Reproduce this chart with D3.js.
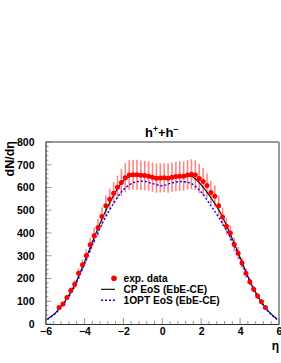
<!DOCTYPE html>
<html><head><meta charset="utf-8">
<script src="https://cdn.jsdelivr.net/npm/d3@7"></script>
<style>body{margin:0;background:#fff}svg{display:block}text{font-family:"Liberation Sans",Arial,sans-serif;font-weight:bold}</style>
</head><body>
<svg id="c" width="281" height="363"></svg>
<script>
const etaData = [-5.3,-5.1,-4.9,-4.7,-4.5,-4.3,-4.1,-3.9,-3.7,-3.5,-3.3,-3.1,-2.9,-2.7,-2.5,-2.3,-2.1,-1.9,-1.7,-1.5,-1.3,-1.1,-0.9,-0.7,-0.5,-0.3,-0.1,
  0.1,0.3,0.5,0.7,0.9,1.1,1.3,1.5,1.7,1.9,2.1,2.3,2.5,2.7,2.9,3.1,3.3,3.5,3.7,3.9,4.1,4.3,4.5,4.7,4.9,5.1,5.3];
const dnData = [73,88,116,147,175,223,260,301,348,388,424,472,520,548,575,601,622,643,655,656,656,654,653,650,645,641,642,
  643,641,645,648,650,650,655,658,655,640,626,609,578,562,520,470,430,400,350,311,268,223,186,153,123,98,73];
const errData = [8,10,12,15,17,21,24,27,31,34,37,41,45,47,49,51,60,64,65,66,66,65,65,65,64,64,64,
  64,64,64,65,65,65,65,66,65,64,60,52,49,47,44,40,36,34,31,27,24,21,17,14,12,10,8];
const etaCP = [-5.9,-5.5,-5.0,-4.5,-4.0,-3.5,-3.0,-2.5,-2.0,-1.5,-1.0,-0.5,0,0.5,1.0,1.5,2.0,2.5,3.0,3.5,4.0,4.5,5.0,5.5,5.9];
const dnCP = [22,48,100,172,272,380,480,565,630,654,657,646,641,647,651,649,612,555,487,395,293,190,110,52,22];
const etaOPT = [-5.9,-5.5,-5.0,-4.5,-4.0,-3.5,-3.0,-2.5,-2.0,-1.5,-1.0,-0.5,0,0.5,1.0,1.5,2.0,2.5,3.0,3.5,4.0,4.5,5.0,5.5,5.9];
const dnOPT = [20,45,95,165,262,365,455,530,590,620,628,617,608,620,626,617,580,520,455,380,285,185,105,50,20];
const xTicks = [-6,-4,-2,0,2,4,6];
const yTicks = [0,100,200,300,400,500,600,700,800];
const legendLabels = ["exp. data","CP EoS (EbE-CE)","1OPT EoS (EbE-CE)"];

const svg = d3.select("#c");
const x = d3.scaleLinear().domain([-6,6]).range([45.5,279]);
const y = d3.scaleLinear().domain([0,800]).range([324,142]);

// frame top/right
svg.append("line").attr("x1",45.5).attr("x2",279).attr("y1",142).attr("y2",142).attr("stroke","#999").attr("stroke-width",2);
svg.append("line").attr("x1",279).attr("x2",279).attr("y1",142).attr("y2",324).attr("stroke","#999").attr("stroke-width",2);

// y axis
const yMinor = d3.range(0,801,20);
svg.append("g").selectAll("line").data(yMinor).join("line")
  .attr("x1",45.5).attr("x2",d=>45.5+(d%100===0?6:3)).attr("y1",d=>y(d)).attr("y2",d=>y(d)).attr("stroke","#555").attr("stroke-width",0.6);
const yAxis = d3.axisLeft(y).tickValues(yTicks).tickSize(0).tickPadding(11);
const gy = svg.append("g").attr("transform","translate(45.5,0)").call(yAxis);
gy.select(".domain").attr("stroke","#333").attr("stroke-width",1.2);
gy.selectAll("text").attr("font-size",10.5).attr("font-weight","bold").attr("fill","#000").attr("font-family","Liberation Sans, Arial, sans-serif");

// x axis
const xMinor = d3.range(-6,6.01,0.4);
svg.append("g").selectAll("line").data(xMinor).join("line")
  .attr("x1",d=>x(d)).attr("x2",d=>x(d)).attr("y1",324).attr("y2",(d,i)=>324-(i%5===0?6:3)).attr("stroke","#555").attr("stroke-width",0.6);
const xAxis = d3.axisBottom(x).tickValues(xTicks).tickSize(0).tickPadding(4).tickFormat(d3.format("d"));
const gx = svg.append("g").attr("transform","translate(0,324)").call(xAxis);
gx.select(".domain").attr("stroke","#333").attr("stroke-width",1.2);
gx.selectAll("text").attr("font-size",10.5).attr("font-weight","bold").attr("fill","#000").attr("font-family","Liberation Sans, Arial, sans-serif");

// titles
svg.append("text").attr("x",279).attr("y",350).attr("text-anchor","end").attr("font-size",12).attr("font-weight","normal").text("η");
svg.append("text").attr("transform","translate(14,141) rotate(-90)").attr("text-anchor","end").attr("font-size",12.5).text("dN/dη");
const t = svg.append("text").attr("x",145).attr("y",137).attr("font-size",13);
t.append("tspan").text("h");
t.append("tspan").attr("dy",-5).attr("font-size",8.5).text("+");
t.append("tspan").attr("dy",5).text("+h");
t.append("tspan").attr("dy",-5).attr("font-size",8.5).text("−");

// error bars
svg.append("g").selectAll("line").data(etaData).join("line")
  .attr("x1",d=>x(d)).attr("x2",d=>x(d))
  .attr("y1",(d,i)=>y(dnData[i]-errData[i])).attr("y2",(d,i)=>y(dnData[i]+errData[i]))
  .attr("stroke","#ff7070").attr("stroke-opacity",0.85).attr("stroke-width",1.6);

// curves
const lineCP = d3.line().x((d,i)=>x(etaCP[i])).y(d=>y(d)).curve(d3.curveCatmullRom);
svg.append("path").attr("d",lineCP(dnCP)).attr("fill","none").attr("stroke","#000").attr("stroke-width",1.1);
const lineOPT = d3.line().x((d,i)=>x(etaOPT[i])).y(d=>y(d)).curve(d3.curveCatmullRom);
svg.append("path").attr("d",lineOPT(dnOPT)).attr("fill","none").attr("stroke","#0000ff").attr("stroke-width",1.4).attr("stroke-dasharray","2,2");

// points
svg.append("g").selectAll("circle").data(etaData).join("circle")
  .attr("cx",d=>x(d)).attr("cy",(d,i)=>y(dnData[i])).attr("r",2.5).attr("fill","#ff0000");

// legend
const lg = svg.append("g");
lg.append("circle").attr("cx",114).attr("cy",278.3).attr("r",2.8).attr("fill","#ff0000");
lg.append("line").attr("x1",101).attr("x2",115).attr("y1",289.3).attr("y2",289.3).attr("stroke","#000").attr("stroke-width",1.1);
lg.append("line").attr("x1",101).attr("x2",115).attr("y1",300.3).attr("y2",300.3).attr("stroke","#0000ff").attr("stroke-width",1.4).attr("stroke-dasharray","2,2");
lg.selectAll("text").data(legendLabels).join("text")
  .attr("x",123.5).attr("y",(d,i)=>278.3+i*11+3.6).attr("font-size",10.2).text(d=>d);
</script>
</body></html>
